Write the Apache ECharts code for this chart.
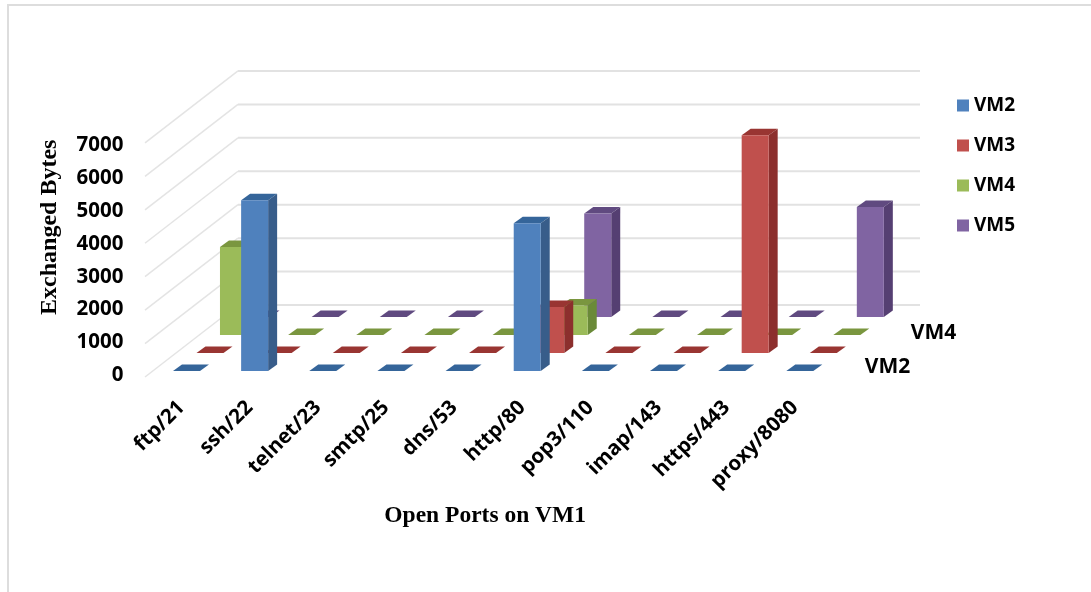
<!DOCTYPE html>
<html>
<head>
<meta charset="utf-8">
<style>html,body{margin:0;padding:0;background:#fff}#chart{width:1091px;height:592px}</style>
<script src="https://cdn.jsdelivr.net/npm/echarts@6/dist/echarts.min.js"></script>
</head>
<body>
<div id="chart"></div>
<script>
// Bytes exchanged per open port, one row of columns per peer VM.
const ports = ['ftp/21','ssh/22','telnet/23','smtp/25','dns/53','http/80','pop3/110','imap/143','https/443','proxy/8080'];
const vm2 = [0, 5200, 0, 0, 0, 4500, 0, 0, 0, 0];
const vm3 = [0, 0, 0, 0, 0, 1400, 0, 0, 6630, 0];
const vm4 = [2680, 0, 0, 0, 0, 900, 0, 0, 0, 0];
const vm5 = [0, 0, 0, 0, 0, 3150, 0, 0, 0, 3350];
const yTicks = [0, 1000, 2000, 3000, 4000, 5000, 6000, 7000];
const depthLabels = ['VM2', 'VM4'];
const depthLabelRows = [0, 2];

const rows = [
  { name: 'VM2', values: vm2, front: '#4F81BD', side: '#385D8A', top: '#35659A' },
  { name: 'VM3', values: vm3, front: '#C0504D', side: '#8C2F2D', top: '#993532' },
  { name: 'VM4', values: vm4, front: '#9BBB59', side: '#6A8A38', top: '#7A963F' },
  { name: 'VM5', values: vm5, front: '#8064A2', side: '#553F72', top: '#604A80' }
];

// Oblique projection of the third axis, in pixels.
const rowStepX = 23.5, rowStepY = 18;      // shift between neighbouring rows
const capX = 9, capY = 6.5;                // receding depth of a single column
const columnWidth = 27;
const floorLift = 4.3;                     // front row sits this far above the value baseline
const wallDepthX = 93, wallDepthY = 72;    // how far the back wall recedes
const wallStretch = 1.0176, wallDrop = 1.7;
const wallRight = 920;

function barItem(rowIndex, row) {
  return function (params, api) {
    const i = api.value(0), v = api.value(1);
    const base = api.coord([i, 0]);
    const x = base[0] - columnWidth / 2 + rowIndex * rowStepX;
    const yb = base[1] - floorLift - rowIndex * rowStepY;
    const h = base[1] - api.coord([i, v])[1];
    const yt = yb - h;
    const children = [{
      type: 'polygon',
      shape: { points: [[x, yt], [x + capX, yt - capY], [x + columnWidth + capX, yt - capY], [x + columnWidth, yt]] },
      style: { fill: row.top }
    }];
    if (h > 0) {
      children.push({
        type: 'polygon',
        shape: { points: [[x + columnWidth, yb], [x + columnWidth + capX, yb - capY], [x + columnWidth + capX, yt - capY], [x + columnWidth, yt]] },
        style: { fill: row.side }
      }, {
        type: 'rect',
        shape: { x: x, y: yt, width: columnWidth, height: h },
        style: { fill: row.front }
      });
    }
    return { type: 'group', children: children };
  };
}

// One gridline: up the side wall, then along the back wall.
function wallItem(params, api) {
  const v = api.value(1);
  const origin = api.coord([0, 0]);
  const y = origin[1] + wallDrop + (api.coord([0, v])[1] - origin[1]) * wallStretch;
  const x0 = origin[0] - api.size([1, 0])[0] / 2 - 7.4;
  const xb = x0 + wallDepthX, yb = y - wallDepthY;
  return {
    type: 'group',
    children: [{
      type: 'line',
      shape: { x1: x0, y1: y, x2: xb, y2: yb },
      style: { stroke: '#E4E4E4', lineWidth: 1.5 }
    }, {
      type: 'line',
      shape: { x1: xb, y1: yb, x2: wallRight, y2: yb },
      style: { stroke: '#E2E2E2', lineWidth: 2 }
    }]
  };
}

function depthLabelItem(params, api) {
  const rowIndex = api.value(1);
  const last = api.coord([ports.length - 1, 0]);
  const x = last[0] + columnWidth / 2 + 51.5 + rowIndex * 23;
  const y = last[1] - floorLift - rowIndex * 17 - 4;
  return {
    type: 'text',
    style: {
      text: depthLabels[params.dataIndex], x: x, y: y,
      fill: '#000', font: 'bold 21px "Open Sans"', align: 'left', verticalAlign: 'middle'
    }
  };
}

const series = rows.map(function (row, rowIndex) {
  return {
    name: row.name,
    type: 'custom',
    z: 10 - rowIndex,
    itemStyle: { color: row.front },
    renderItem: barItem(rowIndex, row),
    encode: { x: 0, y: 1 },
    data: row.values.map(function (v, i) { return [i, v]; })
  };
});
series.push({
  type: 'custom', z: 1, silent: true,
  renderItem: wallItem,
  encode: { x: 0, y: 1 },
  data: yTicks.map(function (t) { return [0, t]; })
}, {
  type: 'custom', z: 2, silent: true,
  renderItem: depthLabelItem,
  encode: { x: 0, y: 1 },
  data: depthLabelRows.map(function (r) { return [0, r]; })
});

const chart = echarts.init(document.getElementById('chart'), null, { renderer: 'canvas' });
chart.setOption({
  animation: false,
  backgroundColor: '#fff',
  grid: { left: 152.4, top: 145.3, width: 681.5, height: 230, outerBoundsMode: 'none' },
  legend: {
    data: rows.map(function (r) { return r.name; }),
    left: 957, top: 96, padding: 0, orient: 'vertical',
    itemWidth: 12, itemHeight: 12, itemGap: 21,
    icon: 'rect',
    textStyle: { fontFamily: 'Open Sans', fontWeight: 'bold', fontSize: 19, color: '#000' }
  },
  xAxis: {
    type: 'category', data: ports,
    axisLine: { show: false }, axisTick: { show: false }, splitLine: { show: false },
    axisLabel: { rotate: 45, interval: 0, margin: 24, padding: [0, 7, 0, 0], color: '#000', fontFamily: 'Open Sans', fontWeight: 'bold', fontSize: 20.5 },
    name: 'Open Ports on VM1', nameLocation: 'middle', nameGap: 129,
    nameTextStyle: { fontFamily: 'Liberation Serif', fontWeight: 'bold', fontSize: 23.5, color: '#000', padding: [0, 16, 0, 0] }
  },
  yAxis: {
    type: 'value', min: 0, max: 7000, interval: 1000,
    axisLine: { show: false }, axisTick: { show: false }, splitLine: { show: false },
    axisLabel: { margin: 29, padding: [4, 0, 0, 0], color: '#000', fontFamily: 'Open Sans', fontWeight: 'bold', fontSize: 20.5, formatter: function (v) { return String(v); } },
    name: 'Exchanged Bytes', nameLocation: 'middle', nameGap: 91, nameRotate: 90,
    nameTextStyle: { fontFamily: 'Liberation Serif', fontWeight: 'bold', fontSize: 24, color: '#000', padding: [0, 0, 0, 66] }
  },
  graphic: [{
    type: 'polyline', silent: true, z: 0,
    shape: { points: [[8, 592], [8, 5], [1091, 5]] },
    style: { stroke: '#DDDDDD', lineWidth: 2, fill: 'none' }
  }],
  series: series
});
</script>
</body>
</html>
